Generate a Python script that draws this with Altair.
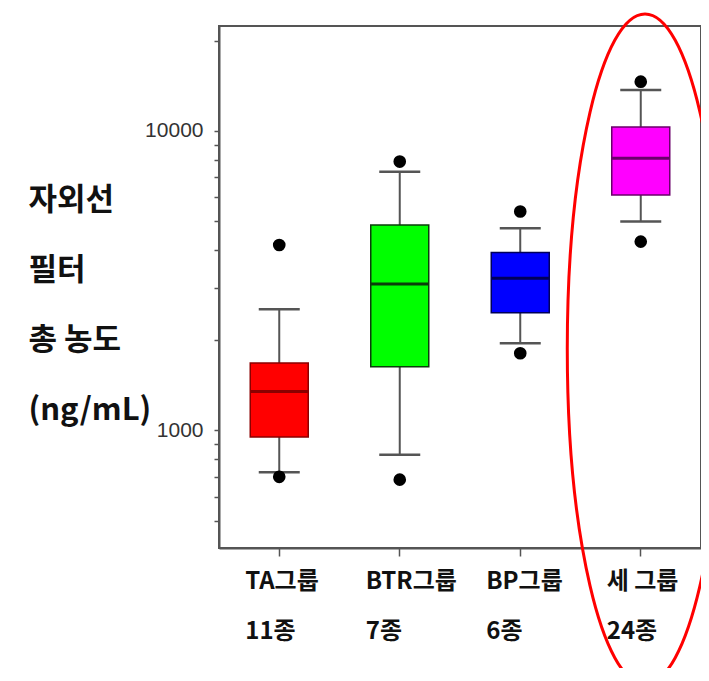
import altair as alt
import pandas as pd

# ---- data ----
categories = ["TA그룹", "BTR그룹", "BP그룹", "세 그룹"]
counts = ["11종", "7종", "6종", "24종"]
whisker_low = [725, 830, 1955, 4980]
q1 = [950, 1630, 2470, 6110]
median = [1350, 3080, 3220, 8100]
q3 = [1680, 4850, 3930, 10300]
whisker_high = [2540, 7310, 4730, 13700]
outlier_low = [700, 685, 1810, 4270]
outlier_high = [4160, 7900, 5380, 14600]

fill_colors = ["#FF0000", "#00FF00", "#0000FF", "#FF00FF"]
line_colors = ["#8B0000", "#0B3D0B", "#00005A", "#6A006A"]

y_tick_values = [500, 600, 700, 800, 900, 1000, 2000, 3000, 4000, 5000,
                 6000, 7000, 8000, 9000, 10000, 20000]
y_label_values = [1000, 10000]
y_title = ["자외선", "필터", "총 농도", "(ng/mL)"]

boxes = pd.DataFrame({
    "cat": categories,
    "lo": whisker_low,
    "q1": q1,
    "med": median,
    "q3": q3,
    "hi": whisker_high,
})
outliers = pd.DataFrame({
    "cat": categories + categories,
    "value": outlier_low + outlier_high,
})

KFONT = "Noto Sans CJK KR"

label_expr = " : ".join(
    f"datum.value == '{c}' ? ['{c}', '{n}']" for c, n in zip(categories, counts)
) + " : datum.value"

x_axis = alt.Axis(
    title=None, labelExpr=label_expr, labelAngle=0, labelAlign="left",
    labelOffset=-34, labelBaseline="top", labelPadding=13,
    labelFont=KFONT, labelFontSize=24, labelFontWeight="bold",
    labelColor="#111111", labelLineHeight=50, tickSize=8, tickWidth=1.5,
    tickColor="#555555", domainColor="#555555", domainWidth=2,
)
x_scale = alt.Scale(domain=categories, paddingInner=0, paddingOuter=0)

y_label_cond = " || ".join(f"datum.value == {v}" for v in y_label_values)
y_axis = alt.Axis(
    title=y_title, titleAngle=0, titleAlign="left", titleBaseline="alphabetic",
    titleX=-191, titleY=183, titleFont=KFONT, titleFontSize=31,
    titleFontWeight="bold", titleColor="#111111", titleLineHeight=70,
    values=y_tick_values, labelExpr=f"({y_label_cond}) ? '' + datum.value : ''",
    labelOverlap=False, labelFont="Liberation Sans", labelFontSize=21,
    labelColor="#333333", labelPadding=11, tickSize=5, tickWidth=1.5,
    tickColor="#555555", domainColor="#555555", domainWidth=2, grid=False,
)
y_scale = alt.Scale(type="log", domain=[405, 22400], nice=False)

X = alt.X("cat:N", scale=x_scale, axis=x_axis, sort=categories)

whiskers = alt.Chart(boxes).mark_rule(color="#555555", strokeWidth=2).encode(
    x=X,
    y=alt.Y("lo:Q", scale=y_scale, axis=y_axis),
    y2="hi:Q",
)
cap_lo = alt.Chart(boxes).mark_tick(color="#555555", size=41, thickness=2.5, opacity=1).encode(
    x=X, y=alt.Y("lo:Q", scale=y_scale, axis=y_axis),
)
cap_hi = alt.Chart(boxes).mark_tick(color="#555555", size=41, thickness=2.5, opacity=1).encode(
    x=X, y=alt.Y("hi:Q", scale=y_scale, axis=y_axis),
)
bars = alt.Chart(boxes).mark_bar(size=58, strokeWidth=1.5).encode(
    x=X,
    y=alt.Y("q1:Q", scale=y_scale, axis=y_axis),
    y2="q3:Q",
    fill=alt.Fill("cat:N", scale=alt.Scale(domain=categories, range=fill_colors), legend=None),
    stroke=alt.Stroke("cat:N", scale=alt.Scale(domain=categories, range=line_colors), legend=None),
)
medians = alt.Chart(boxes).mark_tick(size=58, thickness=3, opacity=1).encode(
    x=X,
    y=alt.Y("med:Q", scale=y_scale, axis=y_axis),
    color=alt.Color("cat:N", scale=alt.Scale(domain=categories, range=line_colors), legend=None),
)
dots = alt.Chart(outliers).mark_circle(size=160, color="black", opacity=1).encode(
    x=X,
    y=alt.Y("value:Q", scale=y_scale, axis=y_axis),
)

# red ellipse annotation around the last group
k = 0.5523
r = 0.232
kr = k * r
ellipse_path = (
    f"M0,-1 C{kr:.4f},-1 {r:.4f},{-k:.4f} {r:.4f},0 "
    f"C{r:.4f},{k:.4f} {kr:.4f},1 0,1 "
    f"C{-kr:.4f},1 {-r:.4f},{k:.4f} {-r:.4f},0 "
    f"C{-r:.4f},{-k:.4f} {-kr:.4f},-1 0,-1 Z"
)
ellipse = alt.Chart(pd.DataFrame({"k": [0]})).mark_point(
    shape=ellipse_path, size=670 * 670, filled=False, color="#FF0000",
    stroke="#FF0000", strokeWidth=3, opacity=1,
).encode(x=alt.value(426), y=alt.value(323))

chart = alt.layer(whiskers, cap_lo, cap_hi, bars, medians, dots, ellipse).properties(
    width=482,
    height=522,
    autosize=alt.AutoSizeParams(type="none"),
    padding={"left": 211, "top": 18, "right": 0, "bottom": 120},
    background="white",
).configure_view(stroke="#555555", strokeWidth=2)

chart.save("out.html", embed_options={"renderer": "svg", "actions": False})
